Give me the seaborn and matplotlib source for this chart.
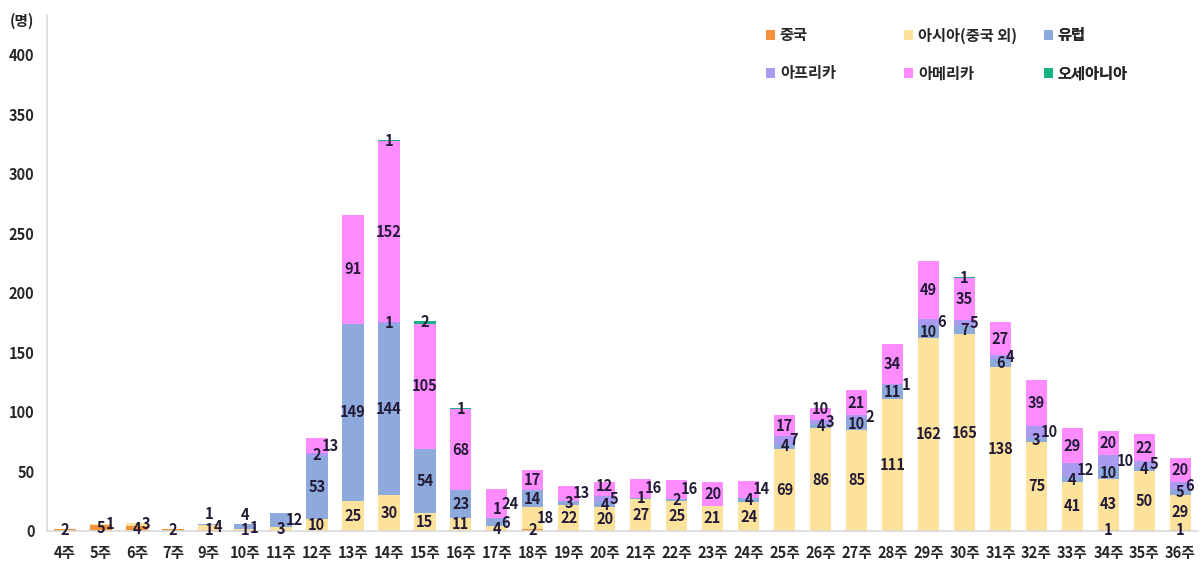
import matplotlib
matplotlib.use("Agg")
import matplotlib.pyplot as plt
import numpy as np
import pandas as pd
import seaborn as sns
from matplotlib.patches import Patch

weeks = ["4주", "5주", "6주", "7주", "9주", "10주", "11주", "12주", "13주", "14주",
         "15주", "16주", "17주", "18주", "19주", "20주", "21주", "22주", "23주", "24주",
         "25주", "26주", "27주", "28주", "29주", "30주", "31주", "32주", "33주", "34주",
         "35주", "36주"]

china = [2, 5, 4, 2, 1, 1, 0, 0, 0, 0, 0, 0, 0, 2, 0, 0, 0, 0, 0, 0,
         0, 0, 0, 0, 0, 0, 0, 0, 0, 1, 0, 1]
asia = [0, 1, 3, 0, 4, 1, 3, 10, 25, 30, 15, 11, 4, 18, 22, 20, 27, 25, 21, 24,
        69, 86, 85, 111, 162, 165, 138, 75, 41, 43, 50, 29]
europe = [0, 0, 0, 0, 1, 4, 12, 53, 149, 144, 54, 23, 6, 14, 3, 4, 1, 2, 0, 4,
          4, 4, 10, 11, 10, 7, 6, 3, 4, 10, 4, 5]
africa = [0, 0, 0, 0, 0, 0, 0, 2, 0, 1, 0, 0, 1, 0, 0, 5, 0, 0, 0, 0,
          7, 3, 2, 1, 6, 5, 4, 10, 12, 10, 5, 6]
america = [0, 0, 0, 0, 0, 0, 0, 13, 91, 152, 105, 68, 24, 17, 13, 12, 16, 16, 20, 14,
           17, 10, 21, 34, 49, 35, 27, 39, 29, 20, 22, 20]
oceania = [0, 0, 0, 0, 0, 0, 0, 0, 0, 1, 2, 1, 0, 0, 0, 0, 0, 0, 0, 0,
           0, 0, 0, 0, 0, 1, 0, 0, 0, 0, 0, 0]

series_names = ["중국", "아시아(중국 외)", "유럽", "아프리카", "아메리카", "오세아니아"]
series_values = [china, asia, europe, africa, america, oceania]
colors = ["#F5923E", "#FDE29B", "#8EA9DB", "#A99CF0", "#FF8CFF", "#17B384"]

sns.set_style("white")
plt.rcParams["font.family"] = ["Noto Sans CJK KR", "DejaVu Sans"]

df = pd.DataFrame(dict(zip(series_names, series_values)), index=weeks)
cum = df.cumsum(axis=1)

fig = plt.figure(figsize=(12.02, 5.63), dpi=100)
ax = fig.add_axes([0.039, 0.057, 0.958, 0.916])

# draw cumulative heights from the top series down so lower ones cover
for name, col in reversed(list(zip(series_names, colors))):
    sns.barplot(x=weeks, y=cum[name].values, order=weeks, color=col, width=0.6,
                saturation=1, errorbar=None, linewidth=0, ax=ax)

# data labels at the middle of each segment, small ones pushed aside
label_color = "#231A36"
for i, wk in enumerate(weeks):
    prev = None  # (y, dx, text)
    for name in series_names:
        v = df.loc[wk, name]
        if v <= 0:
            continue
        y = cum.loc[wk, name] - v / 2
        dx = 0
        if prev is not None and y - prev[0] < 11:
            if prev[1] == 0:
                dx = 0.105 * (len(prev[2]) + len(str(v))) + 0.05
                y = max(y, prev[0] + 2)
            else:
                y = prev[0] + 11
        ax.text(i + dx, y, str(v), ha="center", va="center", fontsize=10.5,
                fontweight="bold", color=label_color)
        prev = (y, dx, str(v))

ax.set_xlim(-0.5, len(weeks) - 0.5)
ax.set_ylim(0, 433)
ax.set_yticks(np.arange(0, 401, 50))
ax.set_xlabel("")
ax.set_ylabel("")
sns.despine(ax=ax, top=True, right=True)
for side in ["left", "bottom"]:
    ax.spines[side].set_color("#D9D9D9")
    ax.spines[side].set_linewidth(1.2)
ax.tick_params(axis="both", length=0, labelsize=10.5, colors="#262626")
ax.tick_params(axis="x", pad=10)
ax.tick_params(axis="y", pad=9)
for lab in ax.get_xticklabels() + ax.get_yticklabels():
    lab.set_fontweight("bold")

fig.text(0.018, 0.963, "(명)", ha="center", va="center", fontsize=10.5,
         fontweight="bold", color="#262626")

# legend in three columns placed like the original
col_x = [0.631, 0.746, 0.862]
for c in range(3):
    handles = []
    for r in range(2):
        k = r * 3 + c
        handles.append(Patch(facecolor=colors[k], edgecolor="none", label=series_names[k]))
    leg = ax.legend(handles=handles, loc="upper left", bbox_to_anchor=(col_x[c], 0.965),
                    bbox_transform=fig.transFigure, frameon=False, fontsize=11,
                    handlelength=0.6, handleheight=0.6, handletextpad=0.3,
                    labelspacing=1.45, borderpad=0)
    for t in leg.get_texts():
        t.set_fontweight("bold")
        t.set_color("#262626")
    ax.add_artist(leg)

fig.savefig("out.png", dpi=100)
